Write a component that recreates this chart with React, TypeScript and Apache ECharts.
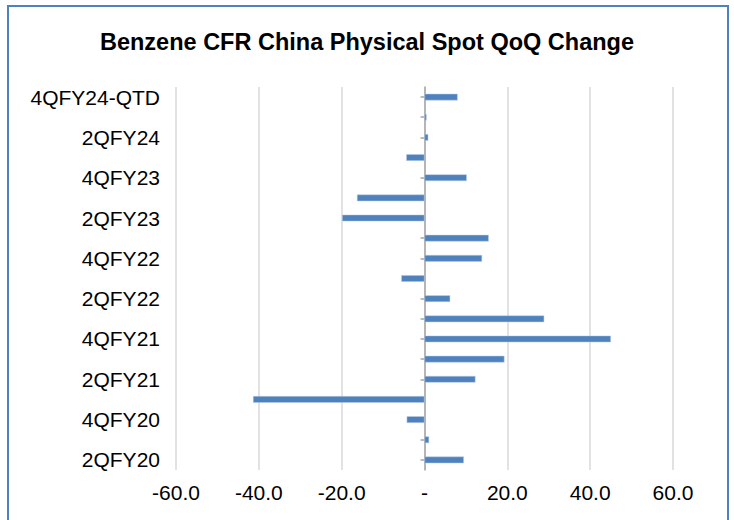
import React, { useEffect, useRef } from "react";
import * as echarts from "echarts";

const categories = [
  "2QFY20", "3QFY20", "4QFY20", "1QFY21", "2QFY21", "3QFY21", "4QFY21",
  "1QFY22", "2QFY22", "3QFY22", "4QFY22", "1QFY23", "2QFY23", "3QFY23",
  "4QFY23", "1QFY24", "2QFY24", "3QFY24", "4QFY24-QTD",
];
const qoqChange = [
  9.5, 1.1, -4.3, -41.4, 12.3, 19.3, 45.0,
  28.9, 6.2, -5.6, 13.9, 15.5, -19.9, -16.3,
  10.2, -4.4, 0.9, 0.5, 8.0,
];
const xTicks = { min: -60, max: 60, interval: 20 };
const titleText = "Benzene CFR China Physical Spot QoQ Change";

export default function App() {
  const ref = useRef<HTMLDivElement>(null);
  useEffect(() => {
    if (!ref.current) return;
    const chart = echarts.init(ref.current, undefined, { renderer: "svg" });
    const font = "Arial, 'Liberation Sans', sans-serif";
    chart.setOption({
      animation: false,
      backgroundColor: "#ffffff",
      title: {
        text: titleText,
        left: "center",
        top: 25,
        textStyle: { fontFamily: font, fontSize: 23.5, fontWeight: "bold", color: "#000" },
      },
      graphic: [
        {
          type: "rect",
          shape: { x: 8, y: 6, width: 720, height: 530 },
          style: { fill: "none", stroke: "#4F81BD", lineWidth: 2 },
          silent: true,
        },
      ],
      grid: { left: 176, right: 61, top: 87, bottom: 50, containLabel: false },
      xAxis: {
        type: "value",
        min: xTicks.min,
        max: xTicks.max,
        interval: xTicks.interval,
        axisLine: { show: false },
        axisTick: { show: false },
        axisLabel: {
          fontFamily: font,
          fontSize: 21,
          color: "#000",
          margin: 12,
          formatter: (v: number) => (v === 0 ? "-" : v.toFixed(1)),
        },
        splitLine: { show: true, lineStyle: { color: "#D9D9D9", width: 1.5 } },
      },
      yAxis: [
        {
          type: "category",
          data: categories,
          position: "left",
          axisLine: { show: false, onZero: false },
          axisTick: { show: false },
          axisLabel: {
            interval: 1,
            fontFamily: font,
            fontSize: 21,
            color: "#000",
            margin: 16,
          },
        },
        {
          type: "category",
          data: categories,
          position: "left",
          axisLine: { show: true, onZero: true, lineStyle: { color: "#A6A6A6", width: 1.5 } },
          axisTick: { show: true, alignWithLabel: true, length: 4, lineStyle: { color: "#A6A6A6", width: 1.5 } },
          axisLabel: { show: false },
        },
      ],
      series: [
        {
          type: "bar",
          data: qoqChange,
          yAxisIndex: 0,
          barWidth: "33%",
          itemStyle: { color: "#4F81BD", borderColor: "#B9CDE5", borderWidth: 0.5 },
        },
      ],
    });
    return () => chart.dispose();
  }, []);
  return (
    <div style={{ position: "absolute", left: 0, top: 0, width: 734, height: 520 }}>
      <div ref={ref} style={{ width: 734, height: 520 }} />
    </div>
  );
}
